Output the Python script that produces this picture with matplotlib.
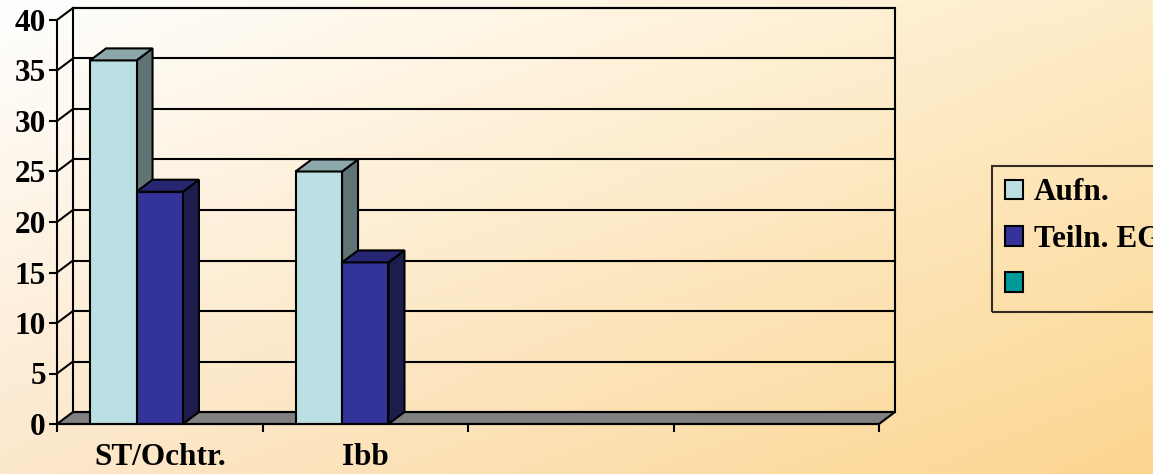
import numpy as np
import matplotlib
matplotlib.use("Agg")
import matplotlib.pyplot as plt
import matplotlib.patches as patches

# --- data ---
categories = ["ST/Ochtr.", "Ibb", "", ""]
series_names = ["Aufn.", "Teiln. EG", " "]
aufn = [36, 25, None, None]
teiln = [23, 16, None, None]
third = [None, None, None, None]
series_values = [aufn, teiln, third]
y_ticks = [0, 5, 10, 15, 20, 25, 30, 35, 40]

# colours: front, top, side
face_cols = ["#BBE0E3", "#333399", "#009999"]
top_cols = ["#8CA8AA", "#262673", "#007373"]
side_cols = ["#607375", "#1D1D4D", "#004D4D"]

plt.rcParams['font.family'] = ['Liberation Serif', 'DejaVu Serif']
plt.rcParams['font.weight'] = 'bold'
FS = 22.5

W, H = 1153, 474
fig = plt.figure(figsize=(W / 100, H / 100), dpi=100)

# gradient background
bg = fig.add_axes([0, 0, 1, 1])
bg.set_axis_off()
c_tl = np.array([255, 255, 255]) / 255
c_tr = np.array([254, 236, 200]) / 255
c_bl = np.array([252, 232, 204]) / 255
c_br = np.array([252, 214, 144]) / 255
gx = np.linspace(0, 1, 200)[None, :, None]
gy = np.linspace(0, 1, 100)[:, None, None]
img = (c_tl * (1 - gx) * (1 - gy) + c_tr * gx * (1 - gy)
       + c_bl * (1 - gx) * gy + c_br * gx * gy)
bg.imshow(img, aspect='auto', extent=[0, 1, 0, 1], interpolation='bilinear')
bg.set_xlim(0, 1)
bg.set_ylim(0, 1)

ax = fig.add_axes([57 / W, 50 / H, 822 / W, 404 / H])
ax.set_facecolor('none')
ncat = len(categories)
ax.set_xlim(0, ncat)
ax.set_ylim(0, 40)

# depth offset of the 3-d box (in data units)
dx = 16 / (822 / ncat)
dy = 12 / (404 / 40)
lw = 1.5

# floor
floor = patches.Polygon([(0, 0), (ncat, 0), (ncat + dx, dy), (dx, dy)],
                        closed=True, facecolor='#808080', edgecolor='black',
                        linewidth=lw, clip_on=False, zorder=2)
ax.add_patch(floor)

# back wall and gridlines
wall = patches.Rectangle((dx, dy), ncat, 40, facecolor='none', edgecolor='black',
                         linewidth=lw, clip_on=False, zorder=2)
ax.add_patch(wall)
for v in y_ticks[1:]:
    ax.plot([dx, ncat + dx], [v + dy, v + dy], color='black', lw=lw,
            clip_on=False, zorder=2)
for v in y_ticks[1:]:
    ax.plot([0, dx], [v, v + dy], color='black', lw=lw, clip_on=False, zorder=2)

# bars
bw = 0.226
nser = len(series_values)
for i in range(ncat):
    start = i + 0.5 - bw * nser / 2
    for s in range(nser):
        v = series_values[s][i]
        if v is None:
            continue
        x0 = start + s * bw
        front = patches.Rectangle((x0, 0), bw, v, facecolor=face_cols[s],
                                  edgecolor='black', linewidth=lw, zorder=3)
        side = patches.Polygon([(x0 + bw, 0), (x0 + bw + dx, dy),
                                (x0 + bw + dx, v + dy), (x0 + bw, v)],
                               closed=True, facecolor=side_cols[s],
                               edgecolor='black', linewidth=lw, zorder=3,
                               clip_on=False)
        top = patches.Polygon([(x0, v), (x0 + bw, v), (x0 + bw + dx, v + dy),
                               (x0 + dx, v + dy)],
                              closed=True, facecolor=top_cols[s],
                              edgecolor='black', linewidth=lw, zorder=3,
                              clip_on=False)
        ax.add_patch(side)
        ax.add_patch(front)
        ax.add_patch(top)

# axes
for sp in ['top', 'right']:
    ax.spines[sp].set_visible(False)
ax.spines['left'].set_linewidth(lw)
ax.spines['bottom'].set_linewidth(lw)
ax.spines['left'].set_zorder(4)
ax.spines['bottom'].set_zorder(4)
ax.set_yticks(y_ticks)
ax.set_yticklabels([str(t) for t in y_ticks], fontsize=FS, fontweight='bold')
ax.tick_params(axis='y', direction='out', length=6, width=lw, pad=2)
ax.set_xticks(range(ncat + 1))
ax.set_xticklabels([])
ax.set_xticks([i + 0.5 for i in range(ncat)], minor=True)
ax.set_xticklabels(categories, minor=True, fontsize=FS, fontweight='bold')
ax.tick_params(axis='x', which='major', direction='out', length=6, width=lw)
ax.tick_params(axis='x', which='minor', length=0, pad=14)

# legend
handles = [patches.Patch(facecolor=face_cols[s], edgecolor='black', linewidth=lw)
           for s in range(nser)]
leg = fig.legend(handles, series_names, loc='upper left',
                 bbox_to_anchor=(992 / W, 1 - 166 / H), fontsize=FS,
                 frameon=True, fancybox=False, handlelength=0.6,
                 handleheight=0.6, handletextpad=0.35, labelspacing=0.55,
                 borderpad=0.4, borderaxespad=0)
leg.get_frame().set_facecolor('none')
leg.get_frame().set_edgecolor('black')
leg.get_frame().set_linewidth(lw)
for t in leg.get_texts():
    t.set_fontweight('bold')

fig.savefig("out.png", dpi=100)
